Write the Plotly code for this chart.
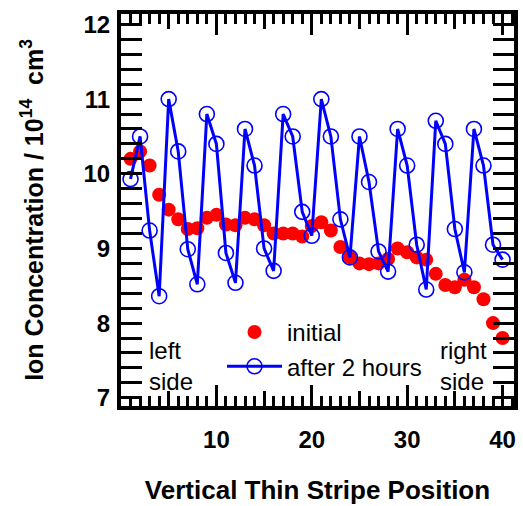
import plotly.graph_objects as go

# Stripe positions and concentrations (10^14 cm^-3)
positions = list(range(1, 41))

initial = [10.20, 10.30, 10.11, 9.72, 9.52, 9.39, 9.26, 9.27, 9.41, 9.45,
           9.32, 9.31, 9.41, 9.39, 9.31, 9.20, 9.20, 9.20, 9.16, 9.30,
           9.35, 9.24, 9.02, 8.88, 8.80, 8.79, 8.80, 8.86, 9.00, 8.95,
           8.88, 8.85, 8.66, 8.51, 8.48, 8.58, 8.48, 8.32, 8.00, 7.80]

after_2h = [9.93, 10.50, 9.24, 8.36, 11.00, 10.30, 8.99, 8.52, 10.80, 10.40,
            8.94, 8.54, 10.60, 10.11, 9.00, 8.70, 10.80, 10.50, 9.49, 9.17,
            11.00, 10.50, 9.39, 8.88, 10.50, 9.89, 8.96, 8.69, 10.60, 10.11,
            9.05, 8.45, 10.71, 10.40, 9.26, 8.68, 10.60, 10.11, 9.05, 8.85]

x_ticks = [10, 20, 30, 40]
x_mid_ticks = [5, 15, 25, 35]
y_ticks = [7, 8, 9, 10, 11, 12]

FONT = "Liberation Sans, Arial, sans-serif"
X_RANGE = [0, 41.2]
Y_RANGE = [6.89, 12.14]

fig = go.Figure()

fig.add_trace(go.Scatter(
    x=positions, y=initial, mode="markers", name="initial",
    marker=dict(color="#ff0000", size=14, line=dict(width=0)),
    legendgroup="a",
))
fig.add_trace(go.Scatter(
    x=positions, y=after_2h, mode="lines+markers", name="after 2 hours",
    line=dict(color="#0000ff", width=3),
    marker=dict(symbol="circle-open", color="#0000ff", size=15,
                line=dict(width=1.6, color="#0000ff")),
    legendgroup="b",
))

frame = dict(showgrid=False, zeroline=False, showline=True, linecolor="black",
             linewidth=4, mirror="allticks", ticks="inside", tickcolor="black",
             tickwidth=3, ticklen=21)

# tick-only axes carrying the mid-length x ticks (bottom and top edges)
mid = dict(showgrid=False, zeroline=False, showline=False, ticks="inside",
           tickwidth=3, tickcolor="black", showticklabels=False,
           overlaying="x", range=X_RANGE, tickmode="array",
           tickvals=x_mid_ticks, ticklen=15)

fig.update_layout(
    width=523, height=506,
    margin=dict(l=121, r=5, t=14, b=100),
    plot_bgcolor="white", paper_bgcolor="white",
    font=dict(family=FONT, color="black"),
    xaxis=dict(
        **frame, range=X_RANGE, tickmode="array", tickvals=x_ticks,
        minor=dict(tickmode="linear", tick0=0, dtick=1, ticklen=10, tickwidth=3,
                   tickcolor="black", ticks="inside"),
        tickfont=dict(size=24, weight="bold"), ticklabelstandoff=9,
        title=dict(text="Vertical Thin Stripe Position",
                   font=dict(size=26, weight="bold"), standoff=30),
    ),
    xaxis2=dict(**mid, side="bottom"),
    xaxis3=dict(**mid, side="top"),
    yaxis=dict(
        **frame, range=Y_RANGE, tickmode="array", tickvals=y_ticks,
        minor=dict(tickmode="linear", tick0=7, dtick=0.2, ticklen=10, tickwidth=3,
                   tickcolor="black", ticks="inside"),
        tickfont=dict(size=24, weight="bold"), ticklabelstandoff=2,
        title=dict(text="Ion Concentration / 10<sup>14</sup>  cm<sup>3</sup>",
                   font=dict(size=25, weight="bold"), standoff=34),
    ),
    legend=dict(
        x=0.257, y=0.245, xanchor="left", yanchor="top",
        bgcolor="rgba(0,0,0,0)", borderwidth=0,
        font=dict(size=24), itemwidth=55, tracegroupgap=0,
        traceorder="grouped",
    ),
    showlegend=True,
)

# empty traces that bring the tick-only axes onto the plot
for xa in ["x2", "x3"]:
    fig.add_trace(go.Scatter(x=[None], y=[None], xaxis=xa, yaxis="y",
                             showlegend=False, hoverinfo="skip"))

fig.add_annotation(x=2.7, y=7.43, xref="x", yref="y", text="left<br>side",
                   showarrow=False, xanchor="left", yanchor="middle", align="left",
                   font=dict(size=24))
fig.add_annotation(x=33.2, y=7.43, xref="x", yref="y", text="right<br>side",
                   showarrow=False, xanchor="left", yanchor="middle", align="left",
                   font=dict(size=24))

fig.write_html("out.html")
